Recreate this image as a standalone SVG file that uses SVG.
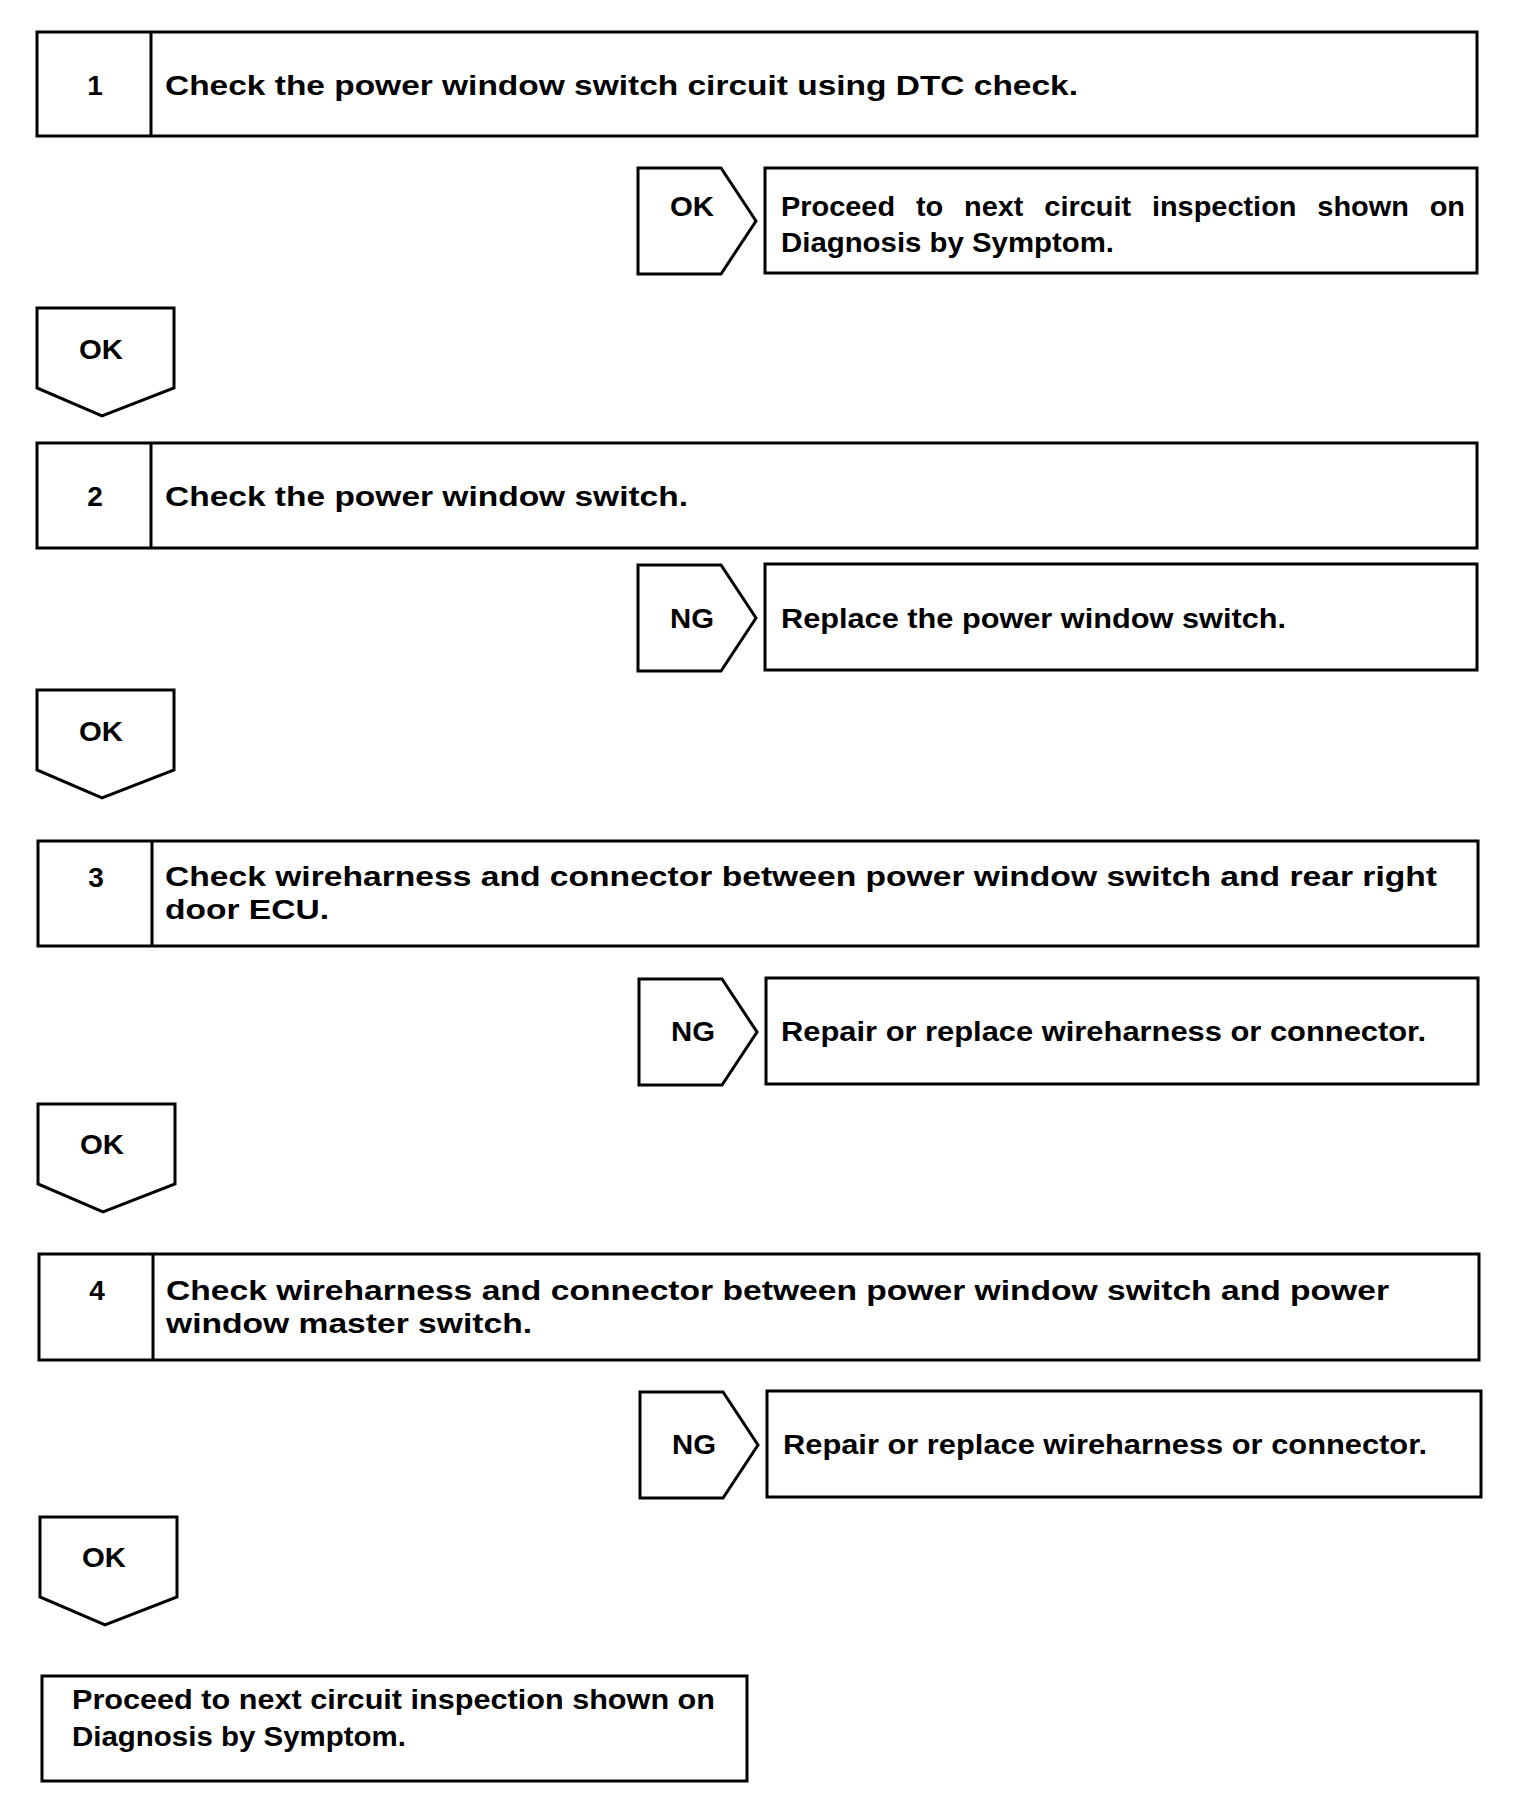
<svg xmlns="http://www.w3.org/2000/svg" width="1520" height="1808" viewBox="0 0 1520 1808">
<style>
.bg{fill:#fff}
.box{fill:#fff;stroke:#000;stroke-width:3}
.div{stroke:#000;stroke-width:3}
.tag{fill:#fff;stroke:#000;stroke-width:3;stroke-linejoin:miter}
text{font-family:"Liberation Sans",Arial,Helvetica,sans-serif;font-weight:bold;fill:#000}
.t{font-size:28px}
.r{font-size:27px}
.n{font-size:28px;text-anchor:middle}
.l{font-size:27px;text-anchor:middle}
</style>
<rect class="bg" x="0" y="0" width="1520" height="1808"/>

<g id="step1">
<rect class="box" x="37" y="32" width="1440" height="104"/>
<line class="div" x1="151" y1="32" x2="151" y2="136"/>
<text class="n" x="95" y="95">1</text>
<text class="t" x="165" y="95" textLength="913" lengthAdjust="spacingAndGlyphs">Check the power window switch circuit using DTC check.</text>
</g>

<g id="result1">
<rect class="box" x="765" y="168" width="712" height="105"/>
<text class="r" x="781" y="216" textLength="684" lengthAdjust="spacingAndGlyphs" word-spacing="12">Proceed to next circuit inspection shown on</text>
<text class="r" x="781" y="252" textLength="333" lengthAdjust="spacingAndGlyphs">Diagnosis by Symptom.</text>
</g>

<g id="step2">
<rect class="box" x="37" y="443" width="1440" height="105"/>
<line class="div" x1="151" y1="443" x2="151" y2="548"/>
<text class="n" x="95" y="506">2</text>
<text class="t" x="165" y="506" textLength="523" lengthAdjust="spacingAndGlyphs">Check the power window switch.</text>
</g>

<g id="result2">
<rect class="box" x="765" y="564" width="712" height="106"/>
<text class="r" x="781" y="628" textLength="505" lengthAdjust="spacingAndGlyphs">Replace the power window switch.</text>
</g>

<g id="step3">
<rect class="box" x="38" y="841" width="1440" height="105"/>
<line class="div" x1="152" y1="841" x2="152" y2="946"/>
<text class="n" x="96" y="887">3</text>
<text class="t" x="165" y="886" textLength="1272" lengthAdjust="spacingAndGlyphs">Check wireharness and connector between power window switch and rear right</text>
<text class="t" x="165" y="919" textLength="164" lengthAdjust="spacingAndGlyphs">door ECU.</text>
</g>

<g id="result3">
<rect class="box" x="766" y="978" width="712" height="106"/>
<text class="r" x="781" y="1041" textLength="645" lengthAdjust="spacingAndGlyphs">Repair or replace wireharness or connector.</text>
</g>

<g id="step4">
<rect class="box" x="39" y="1254" width="1440" height="106"/>
<line class="div" x1="153" y1="1254" x2="153" y2="1360"/>
<text class="n" x="97" y="1300">4</text>
<text class="t" x="166" y="1300" textLength="1223" lengthAdjust="spacingAndGlyphs">Check wireharness and connector between power window switch and power</text>
<text class="t" x="166" y="1333" textLength="366" lengthAdjust="spacingAndGlyphs">window master switch.</text>
</g>

<g id="result4">
<rect class="box" x="767" y="1391" width="714" height="106"/>
<text class="r" x="783" y="1454" textLength="644" lengthAdjust="spacingAndGlyphs">Repair or replace wireharness or connector.</text>
</g>

<g id="final">
<rect class="box" x="42" y="1676" width="705" height="105"/>
<text class="r" x="72" y="1709" textLength="643" lengthAdjust="spacingAndGlyphs">Proceed to next circuit inspection shown on</text>
<text class="r" x="72" y="1746" textLength="334" lengthAdjust="spacingAndGlyphs">Diagnosis by Symptom.</text>
</g>

<g id="connectors">
<g id="ok1-right">
<polygon class="tag" points="638,168 721,168 756,221 721,274 638,274"/>
<text class="l" x="692" y="216" textLength="44" lengthAdjust="spacingAndGlyphs">OK</text>
</g>
<g id="ok1-down">
<polygon class="tag" points="37,308 174,308 174,388 102,416 37,388"/>
<text class="l" x="101" y="359" textLength="44" lengthAdjust="spacingAndGlyphs">OK</text>
</g>
<g id="ng2-right">
<polygon class="tag" points="638,565 721,565 756,618 721,671 638,671"/>
<text class="l" x="692" y="628" textLength="44" lengthAdjust="spacingAndGlyphs">NG</text>
</g>
<g id="ok2-down">
<polygon class="tag" points="37,690 174,690 174,770 102,798 37,770"/>
<text class="l" x="101" y="741" textLength="44" lengthAdjust="spacingAndGlyphs">OK</text>
</g>
<g id="ng3-right">
<polygon class="tag" points="639,979 722,979 757,1032 722,1085 639,1085"/>
<text class="l" x="693" y="1041" textLength="44" lengthAdjust="spacingAndGlyphs">NG</text>
</g>
<g id="ok3-down">
<polygon class="tag" points="38,1104 175,1104 175,1184 103,1212 38,1184"/>
<text class="l" x="102" y="1154" textLength="44" lengthAdjust="spacingAndGlyphs">OK</text>
</g>
<g id="ng4-right">
<polygon class="tag" points="640,1392 723,1392 758,1445 723,1498 640,1498"/>
<text class="l" x="694" y="1454" textLength="44" lengthAdjust="spacingAndGlyphs">NG</text>
</g>
<g id="ok4-down">
<polygon class="tag" points="40,1517 177,1517 177,1597 105,1625 40,1597"/>
<text class="l" x="104" y="1567" textLength="44" lengthAdjust="spacingAndGlyphs">OK</text>
</g>
</g>
</svg>
